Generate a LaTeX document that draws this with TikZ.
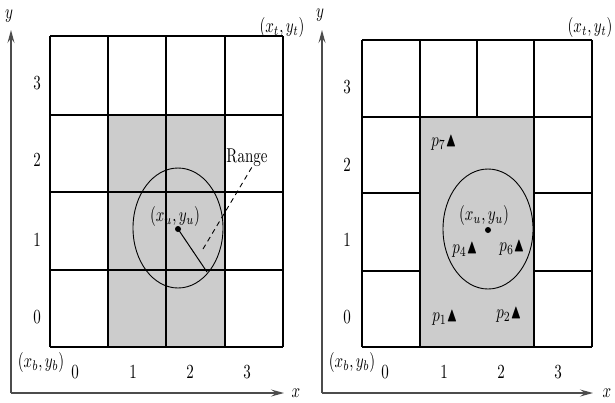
\documentclass[tikz,border=0pt]{standalone}
\usepackage{amssymb}
\usepackage{graphicx}
\usetikzlibrary{arrows.meta}
\newcommand\vt[1]{\scalebox{1.5}[2.0]{#1}}
\begin{document}
\begin{tikzpicture}[x=1pt,y=-1pt,
  gridline/.style={line width=1.1pt, black},
  shadebox/.style={fill=black!20},
  axisline/.style={line width=1.4pt, black!70, -{Stealth[length=13pt,width=7pt,inset=5pt]}},
  lab/.style={inner sep=0pt},
  dotnode/.style={circle, fill=black, inner sep=0pt, minimum size=6pt},
  rangecirc/.style={line width=0.9pt},
  ]
\useasboundingbox (0,0) rectangle (615,402);

% ---------------- left panel ----------------
\fill[shadebox] (108,115) rectangle (225,347);
\foreach \x in {50,108,166,225,283} \draw[gridline] (\x,36) -- (\x,347);
\foreach \y in {36,115,192,270,347} \draw[gridline] (50,\y) -- (283,\y);

\coordinate (lo) at (11,393);
\coordinate (lytip) at (11,30);
\coordinate (lxtip) at (284,393);
\draw[axisline] (lo) -- (lytip);
\draw[axisline] (lo) -- (lxtip);
\node[lab] (lylab) at (9,16) {\vt{$y$}};
\node[lab] (lxlab) at (296,393) {\vt{$x$}};

\draw[rangecirc] (178,228) ellipse [x radius=45pt, y radius=60pt];
\node[dotnode] (lc) at (178,229) {};
\coordinate (lr) at (207,272);
\draw[line width=1pt] (lc.center) -- (lr);
\coordinate (ld1) at (203,249);
\coordinate (ld2) at (252,167);
\draw[dashed, line width=0.9pt, dash pattern=on 5pt off 4pt] (ld1) -- (ld2);
\node[lab] (lrange) at (247,158) {\vt{Range}};
\node[lab] (lxu) at (175,216) {\vt{$(x_u,y_u)$}};

\node[lab] (lxt) at (282,27) {\vt{$(x_t,y_t)$}};
\node[lab] (lxb) at (41,362) {\vt{$(x_b,y_b)$}};

\node[lab] (lr3) at (37,83) {\vt{3}};
\node[lab] (lr2) at (37,160) {\vt{2}};
\node[lab] (lr1) at (37,240) {\vt{1}};
\node[lab] (lr0) at (37,317) {\vt{0}};
\node[lab] (lc0) at (75,372) {\vt{0}};
\node[lab] (lc1) at (133,372) {\vt{1}};
\node[lab] (lc2) at (190,372) {\vt{2}};
\node[lab] (lc3) at (247,372) {\vt{3}};

% ---------------- right panel ----------------
\fill[shadebox] (420,117) rectangle (534,347);
\draw[gridline] (362,40) -- (362,347);
\draw[gridline] (592,40) -- (592,347);
\foreach \x in {420,477,534} \draw[gridline] (\x,40) -- (\x,117);
\draw[gridline] (362,40) -- (592,40);
\draw[gridline] (362,117) -- (592,117);
\draw[gridline] (362,347) -- (592,347);
\foreach \y in {193,271} {
  \draw[gridline] (362,\y) -- (420,\y);
  \draw[gridline] (534,\y) -- (592,\y);
}
\draw[line width=1.8pt] (420,117) rectangle (534,347);

\coordinate (ro) at (322,393);
\coordinate (rytip) at (322,30);
\coordinate (rxtip) at (593,393);
\draw[axisline] (ro) -- (rytip);
\draw[axisline] (ro) -- (rxtip);
\node[lab] (rylab) at (320,15) {\vt{$y$}};
\node[lab] (rxlab) at (607,393) {\vt{$x$}};

\draw[rangecirc] (488,229) ellipse [x radius=45pt, y radius=60pt];
\node[dotnode] (rc) at (488,230) {};
\node[lab] (rxu) at (484,215) {\vt{$(x_u,y_u)$}};

\node[lab] (p7) at (444,143) {\vt{$p_7\blacktriangle$}};
\node[lab] (p4) at (465,250) {\vt{$p_4\blacktriangle$}};
\node[lab] (p6) at (512,248) {\vt{$p_6\blacktriangle$}};
\node[lab] (p1) at (445,318) {\vt{$p_1\blacktriangle$}};
\node[lab] (p2) at (509,315) {\vt{$p_2\blacktriangle$}};

\node[lab] (rxt) at (590,27) {\vt{$(x_t,y_t)$}};
\node[lab] (rxb) at (352,362) {\vt{$(x_b,y_b)$}};

\node[lab] (rr3) at (347,87) {\vt{3}};
\node[lab] (rr2) at (347,165) {\vt{2}};
\node[lab] (rr1) at (347,240) {\vt{1}};
\node[lab] (rr0) at (347,317) {\vt{0}};
\node[lab] (rc0) at (385,372) {\vt{0}};
\node[lab] (rc1) at (444,372) {\vt{1}};
\node[lab] (rc2) at (501,372) {\vt{2}};
\node[lab] (rc3) at (558,372) {\vt{3}};
\end{tikzpicture}
\end{document}
